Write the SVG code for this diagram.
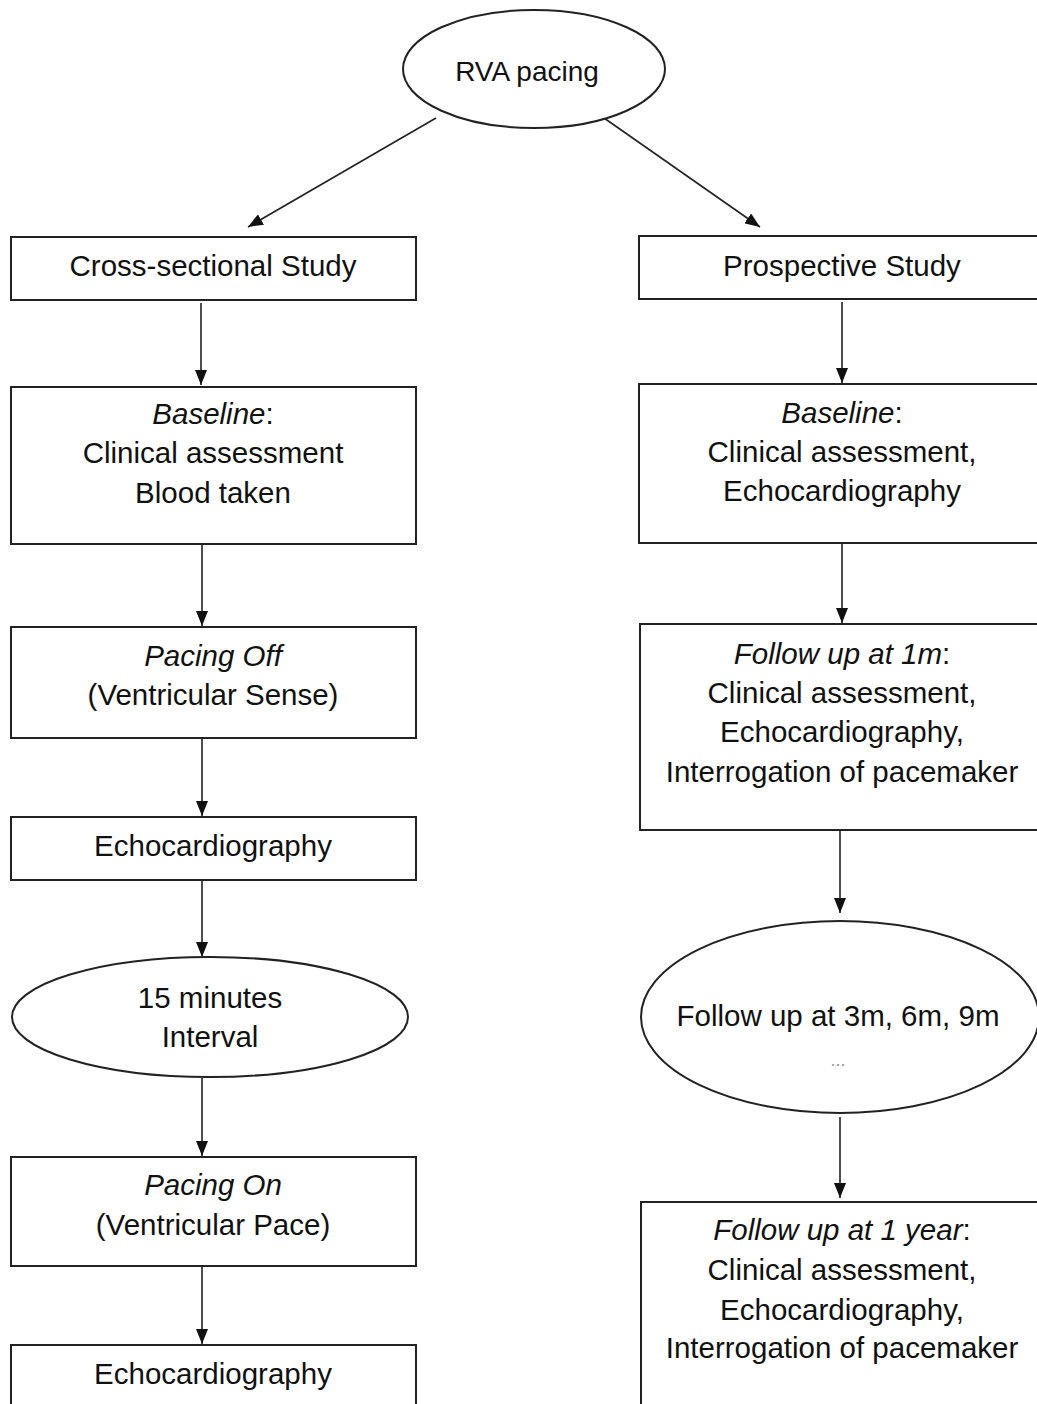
<svg xmlns="http://www.w3.org/2000/svg" width="1037" height="1404" viewBox="0 0 1037 1404">
<defs>
<marker id="arr" viewBox="0 0 15 12" refX="15" refY="6" markerWidth="15" markerHeight="12" markerUnits="userSpaceOnUse" orient="auto">
<path d="M0,0 L15,6 L0,12 Z" fill="#111"/>
</marker>
</defs>
<style>
.box{fill:#fff;stroke:#222;stroke-width:2}
.t{font-family:"Liberation Sans",Arial,sans-serif;font-size:29.5px;fill:#111;text-anchor:middle}
.i{font-style:italic}
.c{stroke:#222;stroke-width:1.6;fill:none;marker-end:url(#arr)}
</style>
<rect width="1037" height="1404" fill="#fff"/>
<g id="connectors">
<line class="c" x1="436" y1="118" x2="248" y2="227"/>
<line class="c" x1="604" y1="118" x2="760" y2="227"/>
<line class="c" x1="201" y1="303" x2="201" y2="385"/>
<line class="c" x1="202" y1="545" x2="202" y2="626"/>
<line class="c" x1="202" y1="739" x2="202" y2="816"/>
<line class="c" x1="202" y1="881" x2="202" y2="957"/>
<line class="c" x1="202" y1="1078" x2="202" y2="1156"/>
<line class="c" x1="202" y1="1267" x2="202" y2="1344"/>
<line class="c" x1="842" y1="302" x2="842" y2="383"/>
<line class="c" x1="842" y1="544" x2="842" y2="623"/>
<line class="c" x1="840" y1="831" x2="840" y2="913"/>
<line class="c" x1="840" y1="1117" x2="840" y2="1198"/>
</g>
<g id="rva">
<ellipse class="box" cx="534" cy="69" rx="131" ry="59"/>
<text class="t" x="527" y="81" style="font-size:28px">RVA pacing</text>
</g>
<g id="cross">
<rect class="box" x="11" y="237" width="405" height="63"/>
<text class="t" x="213" y="276">Cross-sectional Study</text>
</g>
<g id="baseline-l">
<rect class="box" x="11" y="387" width="405" height="157"/>
<text class="t" x="213" y="424"><tspan class="i">Baseline</tspan>:</text>
<text class="t" x="213" y="463">Clinical assessment</text>
<text class="t" x="213" y="503">Blood taken</text>
</g>
<g id="pacing-off">
<rect class="box" x="11" y="627" width="405" height="111"/>
<text class="t i" x="213" y="666">Pacing Off</text>
<text class="t" x="213" y="705">(Ventricular Sense)</text>
</g>
<g id="echo1">
<rect class="box" x="11" y="817" width="405" height="63"/>
<text class="t" x="213" y="856">Echocardiography</text>
</g>
<g id="interval">
<ellipse class="box" cx="210" cy="1017" rx="198" ry="60"/>
<text class="t" x="210" y="1008">15 minutes</text>
<text class="t" x="210" y="1047">Interval</text>
</g>
<g id="pacing-on">
<rect class="box" x="11" y="1157" width="405" height="109"/>
<text class="t i" x="213" y="1195">Pacing On</text>
<text class="t" x="213" y="1235">(Ventricular Pace)</text>
</g>
<g id="echo2">
<rect class="box" x="11" y="1345" width="405" height="80"/>
<text class="t" x="213" y="1384">Echocardiography</text>
</g>
<g id="prospective">
<rect class="box" x="639" y="236" width="420" height="63"/>
<text class="t" x="842" y="276">Prospective Study</text>
</g>
<g id="baseline-r">
<rect class="box" x="639" y="384" width="420" height="159"/>
<text class="t" x="842" y="423"><tspan class="i">Baseline</tspan>:</text>
<text class="t" x="842" y="462">Clinical assessment,</text>
<text class="t" x="842" y="501">Echocardiography</text>
</g>
<g id="fu1m">
<rect class="box" x="640" y="624" width="420" height="206"/>
<text class="t" x="842" y="664"><tspan class="i">Follow up at 1m</tspan>:</text>
<text class="t" x="842" y="703">Clinical assessment,</text>
<text class="t" x="842" y="742">Echocardiography,</text>
<text class="t" x="842" y="782">Interrogation of pacemaker</text>
</g>
<g id="fu3m">
<ellipse class="box" cx="840" cy="1017" rx="199" ry="96"/>
<text class="t" x="838" y="1026">Follow up at 3m, 6m, 9m</text>
<text class="t" x="838" y="1066" style="font-size:18px;fill:#999">...</text>
</g>
<g id="fu1y">
<rect class="box" x="641" y="1202" width="420" height="230"/>
<text class="t" x="842" y="1240"><tspan class="i">Follow up at 1 year</tspan>:</text>
<text class="t" x="842" y="1280">Clinical assessment,</text>
<text class="t" x="842" y="1320">Echocardiography,</text>
<text class="t" x="842" y="1358">Interrogation of pacemaker</text>
</g>
</svg>
